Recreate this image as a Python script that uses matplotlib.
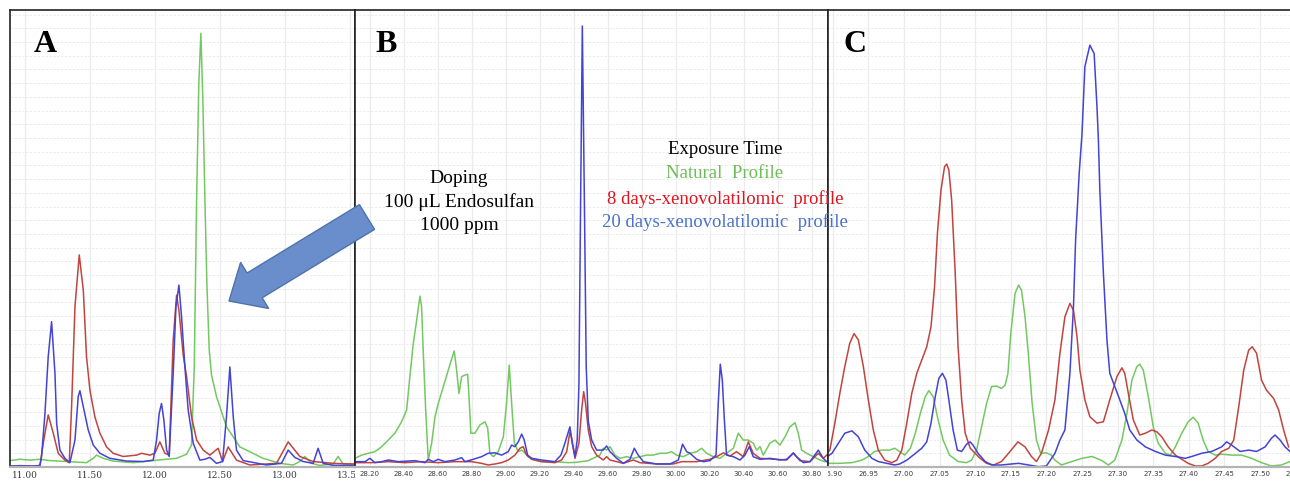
import matplotlib
matplotlib.use("Agg")
import numpy as np
import matplotlib.pyplot as plt
from matplotlib.patches import FancyArrow
from matplotlib.transforms import Bbox, TransformedBbox

# ---- Panel A (11.0 - 13.5 min) ----
a_green_rt = [10.885, 10.962, 11.038, 11.115, 11.192, 11.321, 11.474, 11.526, 11.551, 11.603, 11.679, 11.833,
              11.987, 12.090, 12.167, 12.244, 12.282, 12.303, 12.321, 12.338, 12.354, 12.369, 12.385, 12.400,
              12.418, 12.436, 12.474, 12.551, 12.654, 12.833, 12.962, 13.064, 13.115, 13.154, 13.205, 13.269,
              13.372, 13.410, 13.449, 13.526]
a_green = [1.4, 1.7, 1.5, 1.7, 1.4, 1.2, 0.95, 1.9, 2.6, 1.9, 1.3, 0.95,
           1.4, 1.7, 1.9, 2.8, 4.8, 21.9, 58.4, 83.9, 94.9, 80.3, 58.4, 40.2,
           25.6, 20.1, 15.4, 8.8, 4.4, 1.9, 0.8, 0.44, 1.2, 2.3, 0.8, 0.36,
           0.66, 2.3, 0.66, 0.66]

a_red_rt = [10.885, 11.115, 11.141, 11.179, 11.218, 11.256, 11.308, 11.341, 11.359, 11.385, 11.418, 11.449,
            11.474, 11.500, 11.538, 11.577, 11.628, 11.679, 11.756, 11.859, 11.897, 11.962, 12.000, 12.038,
            12.077, 12.110, 12.141, 12.167, 12.185, 12.218, 12.244, 12.282, 12.321, 12.372, 12.423, 12.487,
            12.521, 12.564, 12.628, 12.731, 12.936, 13.026, 13.115, 13.218, 13.372, 13.526]
a_red = [0.2, 0.2, 5.2, 11.4, 7.4, 3.0, 1.5, 0.95, 13.2, 35.1, 46.4, 38.7,
         24.1, 16.8, 11.0, 7.4, 4.4, 3.0, 2.3, 2.6, 3.0, 2.6, 3.0, 5.5,
         3.0, 2.6, 27.8, 37.6, 34.3, 24.5, 19.8, 11.0, 5.9, 3.7, 2.6, 4.1,
         1.2, 4.4, 1.5, 0.44, 0.8, 5.5, 2.3, 1.2, 0.8, 0.66]

a_blue_rt = [10.885, 10.962, 11.064, 11.115, 11.128, 11.154, 11.179, 11.205, 11.231, 11.244, 11.269, 11.308,
             11.346, 11.385, 11.410, 11.423, 11.449, 11.487, 11.526, 11.577, 11.654, 11.782, 11.910, 11.987,
             12.013, 12.033, 12.051, 12.069, 12.090, 12.110, 12.141, 12.162, 12.185, 12.205, 12.231, 12.256,
             12.295, 12.346, 12.385, 12.423, 12.474, 12.521, 12.551, 12.577, 12.603, 12.628, 12.679, 12.859,
             12.974, 13.026, 13.077, 13.141, 13.218, 13.256, 13.295, 13.372, 13.526]
a_blue = [0.2, 0.3, 0.2, 0.36, 2.3, 11.7, 24.1, 31.8, 20.5, 9.5, 3.7, 1.9,
          0.95, 5.9, 15.4, 16.7, 13.2, 8.1, 4.8, 3.0, 1.9, 1.3, 1.2, 1.5,
          5.9, 11.7, 13.9, 10.3, 3.7, 2.3, 20.5, 35.1, 39.8, 32.9, 21.9, 12.5,
          5.2, 1.5, 1.7, 2.1, 0.8, 1.2, 11.0, 21.9, 11.0, 3.7, 1.4, 0.44,
          0.8, 3.7, 2.1, 1.2, 0.8, 4.1, 0.8, 0.36, 0.36]

# ---- Panel B (28.2 - 30.8 min) ----
b_green_rt = [28.112, 28.151, 28.190, 28.229, 28.269, 28.308, 28.347, 28.386, 28.416, 28.435, 28.455, 28.475,
              28.494, 28.504, 28.514, 28.528, 28.543, 28.563, 28.583, 28.602, 28.632, 28.661, 28.685, 28.696,
              28.710, 28.724, 28.740, 28.759, 28.775, 28.783, 28.794, 28.818, 28.847, 28.877, 28.893, 28.906,
              28.926, 28.955, 28.985, 29.004, 29.020, 29.034, 29.050, 29.073, 29.093, 29.112, 29.132, 29.171,
              29.210, 29.289, 29.367, 29.407, 29.485, 29.553, 29.573, 29.593, 29.613, 29.642, 29.672, 29.711,
              29.750, 29.789, 29.829, 29.868, 29.907, 29.946, 29.976, 30.005, 30.044, 30.084, 30.123, 30.152,
              30.182, 30.221, 30.260, 30.299, 30.339, 30.368, 30.397, 30.427, 30.456, 30.476, 30.496, 30.515,
              30.554, 30.584, 30.613, 30.643, 30.672, 30.702, 30.721, 30.741, 30.770, 30.810, 30.849, 30.878]
b_green = [1.9, 2.6, 3.0, 3.35, 4.45, 5.9, 7.4, 9.9, 12.5, 19.8, 27.0, 32.1,
           37.4, 35.1, 24.9, 12.5, 1.53, 5.2, 11.0, 13.9, 17.6, 21.2, 24.1, 25.4,
           21.2, 16.1, 19.8, 20.1, 20.3, 15.4, 7.4, 7.4, 9.2, 9.9, 8.5, 3.0,
           2.26, 3.35, 6.6, 13.9, 22.3, 13.9, 5.2, 3.35, 3.7, 3.1, 2.26, 1.53,
           1.17, 1.17, 0.95, 1.0, 1.39, 2.6, 4.1, 3.7, 4.45, 2.6, 1.9, 2.26,
           1.9, 2.26, 2.6, 2.6, 3.0, 3.0, 3.35, 2.6, 2.26, 3.0, 3.35, 4.1,
           3.0, 2.26, 1.9, 3.0, 4.1, 7.4, 5.9, 5.9, 5.2, 3.7, 4.45, 2.6,
           5.2, 5.9, 4.8, 6.6, 8.8, 9.7, 7.4, 3.7, 3.0, 2.26, 1.53, 1.17]

b_red_rt = [28.112, 28.210, 28.308, 28.406, 28.504, 28.602, 28.700, 28.798, 28.857, 28.896, 28.936, 28.975,
            29.014, 29.053, 29.083, 29.102, 29.122, 29.152, 29.210, 29.289, 29.328, 29.358, 29.377, 29.387,
            29.407, 29.430, 29.446, 29.458, 29.469, 29.485, 29.505, 29.534, 29.573, 29.593, 29.613, 29.652,
            29.691, 29.750, 29.789, 29.887, 29.985, 30.035, 30.123, 30.201, 30.241, 30.280, 30.319, 30.358,
            30.397, 30.427, 30.456, 30.496, 30.594, 30.653, 30.692, 30.731, 30.790, 30.839, 30.868, 30.888]
b_red = [0.95, 0.95, 1.17, 0.95, 1.17, 0.95, 1.17, 1.17, 0.8, 0.44, 0.66, 0.95,
         1.53, 2.6, 4.1, 4.45, 2.6, 1.68, 1.17, 0.95, 1.53, 3.35, 7.7, 6.3,
         1.9, 5.2, 12.5, 16.5, 13.9, 8.1, 4.45, 2.6, 1.53, 2.26, 1.53, 1.17,
         0.8, 1.53, 0.95, 0.66, 0.66, 1.17, 1.17, 1.68, 2.26, 3.1, 2.4, 3.35,
         2.26, 5.5, 3.0, 1.9, 1.68, 1.53, 3.0, 1.39, 1.17, 3.0, 1.9, 2.6]

b_blue_rt = [28.112, 28.171, 28.200, 28.229, 28.269, 28.308, 28.367, 28.465, 28.524, 28.543, 28.573, 28.602,
             28.641, 28.700, 28.740, 28.759, 28.808, 28.857, 28.896, 28.936, 28.975, 29.014, 29.034, 29.053,
             29.073, 29.093, 29.108, 29.128, 29.152, 29.210, 29.289, 29.324, 29.344, 29.377, 29.391, 29.407,
             29.420, 29.430, 29.440, 29.450, 29.462, 29.473, 29.485, 29.505, 29.534, 29.573, 29.593, 29.613,
             29.652, 29.691, 29.730, 29.756, 29.779, 29.809, 29.887, 29.966, 30.015, 30.040, 30.064, 30.084,
             30.123, 30.162, 30.201, 30.237, 30.250, 30.262, 30.274, 30.286, 30.299, 30.339, 30.378, 30.407,
             30.433, 30.456, 30.496, 30.554, 30.613, 30.653, 30.692, 30.711, 30.751, 30.790, 30.839, 30.868,
             30.888]
b_blue = [1.17, 1.17, 1.9, 0.95, 1.17, 1.53, 1.17, 1.39, 0.95, 1.68, 1.17, 1.68,
          1.17, 1.53, 2.04, 1.17, 1.68, 2.26, 3.0, 3.1, 2.6, 3.35, 4.8, 4.45,
          5.5, 7.2, 5.9, 2.6, 1.9, 1.53, 1.17, 2.6, 4.8, 8.8, 5.2, 2.26,
          6.0, 18.0, 58.4, 96.5, 58.4, 21.9, 10.0, 5.9, 3.7, 3.7, 4.6, 3.35,
          1.9, 0.8, 1.68, 4.1, 2.6, 1.17, 0.66, 0.66, 1.53, 5.0, 3.35, 3.0,
          1.68, 1.17, 1.39, 2.6, 13.9, 22.5, 19.0, 10.3, 2.6, 2.26, 1.53, 2.6,
          4.45, 2.26, 1.68, 1.9, 1.53, 1.68, 3.1, 2.26, 0.95, 1.17, 3.7, 1.9,
          1.17]

# ---- Panel C (26.90 - 27.55 min) ----
c_green_rt = [26.889, 26.908, 26.927, 26.941, 26.950, 26.959, 26.969, 26.980, 26.987, 26.994, 27.001, 27.009,
              27.016, 27.023, 27.030, 27.035, 27.041, 27.048, 27.055, 27.064, 27.076, 27.088, 27.095, 27.102,
              27.109, 27.116, 27.123, 27.130, 27.137, 27.142, 27.146, 27.150, 27.156, 27.161, 27.165, 27.170,
              27.175, 27.180, 27.186, 27.192, 27.200, 27.207, 27.212, 27.221, 27.236, 27.250, 27.264, 27.278,
              27.287, 27.296, 27.306, 27.313, 27.320, 27.327, 27.331, 27.336, 27.343, 27.350, 27.357, 27.367,
              27.374, 27.381, 27.390, 27.399, 27.406, 27.413, 27.420, 27.427, 27.437, 27.446, 27.460, 27.474,
              27.488, 27.502, 27.516, 27.530, 27.542]
c_green = [0.8, 0.8, 0.95, 1.5, 2.3, 3.4, 3.7, 3.7, 4.1, 3.4, 2.6, 4.1,
           7.4, 11.7, 15.4, 16.7, 15.4, 10.3, 5.9, 2.6, 1.2, 0.95, 1.5, 3.7,
           8.8, 13.9, 17.6, 17.7, 17.2, 17.9, 20.5, 29.2, 38.0, 39.8, 38.7, 32.9,
           24.1, 13.9, 5.9, 3.0, 3.1, 2.6, 1.5, 0.44, 1.2, 1.9, 2.3, 1.4,
           0.44, 1.5, 5.9, 11.7, 19.0, 22.0, 22.5, 21.2, 15.4, 8.8, 5.2, 3.0,
           2.6, 4.4, 7.4, 9.9, 10.9, 9.6, 5.9, 3.4, 2.6, 2.8, 2.6, 2.6,
           1.9, 0.95, 0.22, 0.44, 1.2]

c_red_rt = [26.889, 26.896, 26.903, 26.910, 26.917, 26.924, 26.930, 26.936, 26.943, 26.950, 26.957, 26.964,
            26.973, 26.983, 26.990, 26.997, 27.004, 27.011, 27.018, 27.025, 27.032, 27.038, 27.043, 27.047,
            27.052, 27.057, 27.060, 27.063, 27.067, 27.072, 27.076, 27.081, 27.086, 27.093, 27.100, 27.107,
            27.116, 27.126, 27.137, 27.149, 27.160, 27.170, 27.179, 27.186, 27.193, 27.203, 27.212, 27.219,
            27.226, 27.233, 27.238, 27.243, 27.247, 27.254, 27.261, 27.271, 27.280, 27.289, 27.299, 27.306,
            27.310, 27.315, 27.322, 27.331, 27.339, 27.348, 27.355, 27.362, 27.371, 27.381, 27.390, 27.399,
            27.409, 27.418, 27.427, 27.437, 27.446, 27.456, 27.463, 27.470, 27.477, 27.484, 27.489, 27.495,
            27.502, 27.509, 27.519, 27.526, 27.533, 27.540]
c_red = [2.6, 3.7, 9.6, 16.1, 22.0, 27.1, 29.2, 27.8, 22.0, 14.7, 8.1, 3.7,
         1.5, 0.95, 1.5, 3.7, 9.6, 16.1, 20.5, 23.4, 26.3, 30.7, 39.5, 51.1,
         60.6, 65.7, 66.3, 65.0, 58.4, 42.4, 26.3, 14.7, 7.4, 4.1, 3.0, 1.9,
         0.8, 0.44, 1.2, 3.4, 5.5, 4.4, 2.3, 1.2, 3.0, 8.1, 14.7, 24.9,
         32.9, 35.8, 34.3, 28.5, 21.2, 14.7, 11.0, 9.6, 9.9, 14.7, 19.8, 21.7,
         20.5, 16.1, 10.3, 7.0, 7.4, 8.1, 7.7, 6.6, 4.4, 2.6, 1.7, 0.8,
         0.22, 0.22, 0.8, 1.9, 3.4, 4.1, 5.9, 13.2, 21.2, 25.6, 26.3, 24.9,
         19.0, 16.8, 15.0, 12.5, 8.1, 4.4]

c_blue_rt = [26.889, 26.899, 26.908, 26.917, 26.927, 26.936, 26.945, 26.955, 26.964, 26.976, 26.987, 26.994,
             27.004, 27.013, 27.025, 27.032, 27.038, 27.044, 27.049, 27.054, 27.059, 27.063, 27.069, 27.075,
             27.081, 27.088, 27.093, 27.097, 27.104, 27.114, 27.123, 27.137, 27.151, 27.161, 27.175, 27.189,
             27.200, 27.212, 27.219, 27.226, 27.233, 27.238, 27.241, 27.246, 27.250, 27.254, 27.261, 27.267,
             27.271, 27.273, 27.275, 27.280, 27.285, 27.289, 27.296, 27.303, 27.310, 27.317, 27.327, 27.339,
             27.353, 27.367, 27.381, 27.395, 27.404, 27.418, 27.432, 27.446, 27.453, 27.460, 27.472, 27.484,
             27.495, 27.507, 27.516, 27.521, 27.528, 27.535, 27.542]
c_blue = [1.9, 3.0, 5.2, 7.4, 7.9, 6.6, 3.7, 1.9, 1.2, 0.8, 0.44, 0.66,
          1.5, 2.6, 4.1, 5.5, 9.6, 15.4, 19.4, 20.5, 19.0, 14.7, 8.1, 3.7,
          3.4, 5.0, 5.5, 4.8, 3.0, 1.2, 0.44, 0.44, 0.66, 0.8, 0.44, 0.07,
          0.22, 3.0, 5.9, 8.1, 20.5, 35.1, 49.7, 64.2, 73.0, 87.6, 92.3, 90.5,
          78.8, 71.5, 60.6, 42.4, 27.8, 20.5, 17.6, 14.7, 11.7, 8.1, 5.9, 4.4,
          3.4, 2.6, 2.3, 1.9, 2.3, 3.0, 3.4, 4.4, 5.5, 4.8, 3.4, 3.7,
          3.4, 4.4, 6.3, 7.0, 5.9, 4.4, 3.4]

a_ticks = [11.0, 11.5, 12.0, 12.5, 13.0, 13.5]
a_ticklabels = ["11.00", "11.50", "12.00", "12.50", "13.00", "13.50"]
b_ticks = [28.2, 28.4, 28.6, 28.8, 29.0, 29.2, 29.4, 29.6, 29.8, 30.0, 30.2, 30.4, 30.6, 30.8]
b_ticklabels = ["28.20", "28.40", "28.60", "28.80", "29.00", "29.20", "29.40", "29.60", "29.80",
                "30.00", "30.20", "30.40", "30.60", "30.80"]
c_ticks = [26.90, 26.95, 27.00, 27.05, 27.10, 27.15, 27.20, 27.25, 27.30, 27.35, 27.40, 27.45, 27.50, 27.55]
c_ticklabels = ["26.90", "26.95", "27.00", "27.05", "27.10", "27.15", "27.20", "27.25", "27.30",
                "27.35", "27.40", "27.45", "27.50", "27.55"]

GREEN = "#74c862"
RED = "#c0443f"
BLUE = "#4343d4"
SERIF = "Liberation Serif"

W, H = 1290, 482
fig = plt.figure(figsize=(W / 100, H / 100), dpi=100)


def add_panel(left, right, top=10, bottom=467):
    return fig.add_axes([left / W, (H - bottom) / H, (right - left) / W, (bottom - top) / H])


def style_panel(ax, xlim, ticks, labels, font, size):
    ax.set_xlim(*xlim)
    ax.set_ylim(0, 100)
    ax.set_xticks(ticks)
    ax.set_xticklabels(labels, fontfamily=font, fontsize=size, color="#3a3a3a")
    ax.set_yticks(np.arange(0, 100, 3.0))
    ax.tick_params(axis="x", length=0, pad=3)
    ax.tick_params(axis="y", left=False, labelleft=False)
    ax.grid(axis="x", color="#ebebeb", lw=0.9)
    ax.grid(axis="y", color="#ececec", lw=0.7, ls=(0, (2.5, 1.5)))
    ax.set_axisbelow(True)
    for side in ("left", "top", "right"):
        ax.spines[side].set_color("#222222")
        ax.spines[side].set_linewidth(1.2)
    ax.spines["bottom"].set_color("#b4b4b4")
    ax.spines["bottom"].set_linewidth(1.6)
    # keep tick labels inside the panel's own horizontal strip
    pos = ax.get_position()
    box = TransformedBbox(Bbox([[pos.x0, 0], [min(pos.x1, 1.0), 1]]), fig.transFigure)
    for lab in ax.get_xticklabels():
        lab.set_clip_box(box)
        lab.set_clip_on(True)


def draw_traces(ax, green, red, blue):
    for (rt, val), col in zip((green, red, blue), (GREEN, RED, BLUE)):
        ax.plot(rt, val, color=col, lw=1.1, solid_joinstyle="round")


ax_a = add_panel(10, 355)
ax_b = add_panel(355, 828)
ax_c = add_panel(828, 1300)

draw_traces(ax_a, (a_green_rt, a_green), (a_red_rt, a_red), (a_blue_rt, a_blue))
draw_traces(ax_b, (b_green_rt, b_green), (b_red_rt, b_red), (b_blue_rt, b_blue))
draw_traces(ax_c, (c_green_rt, c_green), (c_red_rt, c_red), (c_blue_rt, c_blue))

style_panel(ax_a, (10.885, 13.54), a_ticks, a_ticklabels, "DejaVu Serif", 6.5)
style_panel(ax_b, (28.112, 30.896), b_ticks, b_ticklabels, "DejaVu Sans", 5.0)
style_panel(ax_c, (26.8934, 27.556), c_ticks, c_ticklabels, "DejaVu Sans", 5.0)


def ftext(px, py, s, **kw):
    return fig.text(px / W, 1 - py / H, s, family=SERIF, ha="center", va="center", **kw)


# panel letters
for px, letter in ((45, "A"), (386, "B"), (855, "C")):
    ftext(px, 44, letter, fontsize=23, fontweight="bold")

# doping note
ftext(459, 202, "Doping\n100 μL Endosulfan\n1000 ppm", fontsize=14, linespacing=1.45,
      multialignment="center")

# exposure-time key
ftext(725, 150, "Exposure Time", fontsize=13.5, color="black")
ftext(725, 174, "Natural  Profile", fontsize=13.5, color="#6cbf58")
ftext(725, 199, "8 days-xenovolatilomic  profile", fontsize=13.5, color="#e0141e")
ftext(725, 222, "20 days-xenovolatilomic  profile", fontsize=13.5, color="#4a72c6")

# block arrow pointing at the endosulfan region of panel A
tail = (367 / 100, (H - 217) / 100)
tip = (229 / 100, (H - 301) / 100)
arrow = FancyArrow(tail[0], tail[1], tip[0] - tail[0], tip[1] - tail[1],
                   width=0.29, head_width=0.54, head_length=0.30,
                   length_includes_head=True, transform=fig.dpi_scale_trans,
                   facecolor="#6a8ecc", edgecolor="#4f72ac", lw=1.0, zorder=5)
fig.add_artist(arrow)

fig.savefig("out.png", dpi=100)
